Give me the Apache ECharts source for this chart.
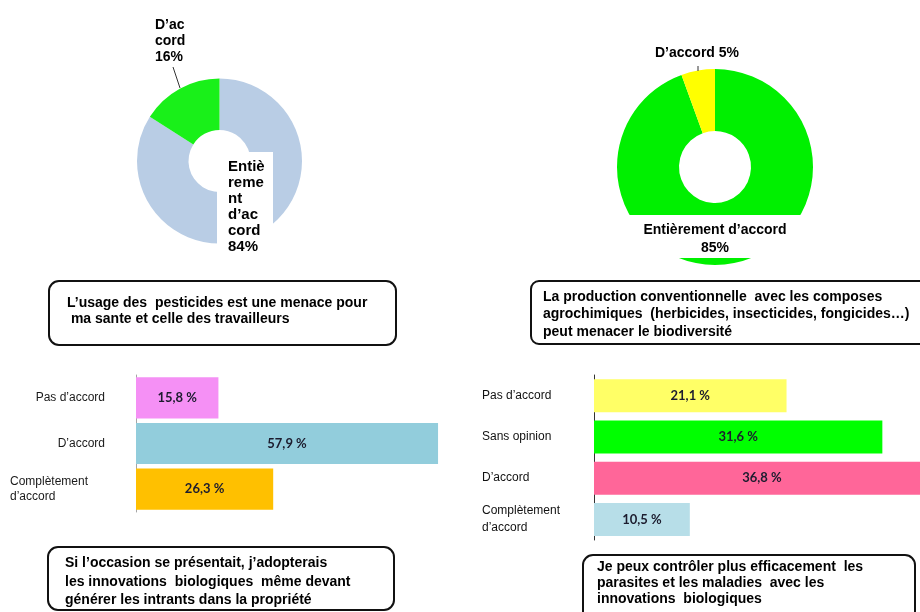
<!DOCTYPE html>
<html>
<head>
<meta charset="utf-8">
<script src="https://cdn.jsdelivr.net/npm/echarts@6/dist/echarts.min.js"></script>
<style>
  html, body { margin: 0; padding: 0; background: #ffffff; }
  #chart { width: 920px; height: 612px; }
</style>
</head>
<body>
<div id="chart"></div>
<script>
// Donut 1: pesticides as a threat to health
const donut1Names = ['Entièrement d’accord', 'D’accord'];
const donut1Wrapped = ['Entiè\nreme\nnt\nd’ac\ncord', 'D’ac\ncord'];
const donut1Values = [84, 16];
const donut1Colors = ['#B9CDE5', '#19F019'];

// Donut 2: conventional production and biodiversity
const donut2Names = ['Entièrement d’accord', 'D’accord'];
const donut2Values = [85, 5];
const donut2Colors = ['#00F000', '#FFFF00'];

// Bars 1: adoption of biological innovations
const bar1Categories = ['Pas d’accord', 'D’accord', 'Complètement\nd’accord'];
const bar1Values = [15.8, 57.9, 26.3];
const bar1Colors = ['#F590F5', '#92CDDC', '#FFC000'];

// Bars 2: pest and disease control
const bar2Categories = ['Pas d’accord', 'Sans opinion', 'D’accord', 'Complètement\nd’accord'];
const bar2Values = [21.1, 31.6, 36.8, 10.5];
const bar2Colors = ['#FFFF66', '#00FF00', '#FF6699', '#B7DEE8'];

// Statement captions
const statements = [
  'L’usage des  pesticides est une menace pour\n ma sante et celle des travailleurs',
  'La production conventionnelle  avec les composes\nagrochimiques  (herbicides, insecticides, fongicides…)\npeut menacer le biodiversité',
  'Si l’occasion se présentait, j’adopterais\nles innovations  biologiques  même devant\ngénérer les intrants dans la propriété',
  'Je peux contrôler plus efficacement  les\nparasites et les maladies  avec les\ninnovations  biologiques'
];

const SANS = '"Liberation Sans", Arial, sans-serif';
const LABEL_FONT = 'Lato, "Open Sans", sans-serif';
const pct = v => v.toFixed(1).replace('.', ',') + ' %';

const chart = echarts.init(document.getElementById('chart'), null, { renderer: 'canvas' });

function pieData(names, values, colors) {
  return names.map((n, i) => ({ name: n, value: values[i], itemStyle: { color: colors[i] } }));
}
function barData(values, colors) {
  return values.map((v, i) => ({ value: v, itemStyle: { color: colors[i] } }));
}

const barLabel = {
  show: true,
  position: 'inside',
  formatter: p => pct(p.value),
  fontFamily: LABEL_FONT,
  fontWeight: 'bold',
  fontSize: 13,
  color: '#1c1c2e'
};

const txt = (x, y, text, extra) => ({
  type: 'text', x, y, z: 110,
  style: Object.assign({
    text, fill: '#000', fontFamily: SANS, fontWeight: 'bold', fontSize: 14, lineHeight: 17
  }, extra || {})
});
const box = (x, y, w, h, r) => ({
  type: 'rect', z: 105,
  shape: { x, y, width: w, height: h, r },
  style: { fill: null, stroke: '#111', lineWidth: 2 }
});

chart.setOption({
  animation: false,
  backgroundColor: '#ffffff',
  grid: [
    { left: 136, top: 375, width: 313, height: 137, outerBoundsMode: 'none', containLabel: false },
    { left: 594, top: 375, width: 365, height: 165, outerBoundsMode: 'none', containLabel: false }
  ],
  xAxis: [
    { gridIndex: 0, type: 'value', min: 0, max: 60, show: false },
    { gridIndex: 1, type: 'value', min: 0, max: 40, show: false }
  ],
  yAxis: [
    {
      gridIndex: 0, type: 'category', inverse: true, data: bar1Categories,
      axisTick: { show: false },
      axisLine: { lineStyle: { color: '#a6a6a6', width: 1 } },
      axisLabel: {
        margin: 31, align: 'right', fontFamily: SANS, fontSize: 12, color: '#1a1a1a', lineHeight: 15,
        formatter: v => v.indexOf('\n') >= 0 ? v.split('\n').map(s => '{l|' + s + '}').join('\n') : v,
        rich: { l: { width: 95, align: 'left', fontFamily: SANS, fontSize: 12, color: '#1a1a1a', lineHeight: 15 } }
      }
    },
    {
      gridIndex: 1, type: 'category', inverse: true, data: bar2Categories,
      axisTick: { show: false },
      axisLine: { lineStyle: { color: '#333333', width: 1 } },
      axisLabel: { margin: 112, align: 'left', fontFamily: SANS, fontSize: 12, color: '#111', lineHeight: 17 }
    }
  ],
  series: [
    {
      type: 'pie', silent: true, center: [219.5, 161], radius: [31, 82.5],
      startAngle: 90, clockwise: true,
      label: { show: false }, labelLine: { show: false },
      data: pieData(donut1Names, donut1Values, donut1Colors)
    },
    {
      type: 'pie', silent: true, center: [715, 167], radius: [36, 98],
      startAngle: 90, clockwise: true,
      label: { show: false }, labelLine: { show: false },
      data: pieData(donut2Names, donut2Values, donut2Colors)
    },
    {
      type: 'bar', xAxisIndex: 0, yAxisIndex: 0, silent: true,
      barCategoryGap: '10%', label: barLabel,
      data: barData(bar1Values, bar1Colors)
    },
    {
      type: 'bar', xAxisIndex: 1, yAxisIndex: 1, silent: true,
      barCategoryGap: '20%', label: barLabel,
      data: barData(bar2Values, bar2Colors)
    }
  ],
  graphic: [
    // label panels laid over the donut rings
    { type: 'rect', z: 100, shape: { x: 217, y: 152, width: 56, height: 110 }, style: { fill: '#ffffff' } },
    { type: 'rect', z: 100, shape: { x: 615, y: 215, width: 200, height: 43 }, style: { fill: '#ffffff' } },

    txt(228, 159, donut1Wrapped[0] + '\n' + donut1Values[0] + '%', { fontSize: 15, lineHeight: 16 }),
    txt(155, 17, donut1Wrapped[1] + '\n' + donut1Values[1] + '%', { fontSize: 14, lineHeight: 16 }),
    { type: 'line', z: 110, shape: { x1: 180, y1: 88, x2: 173, y2: 67 }, style: { stroke: '#333', lineWidth: 1 } },

    txt(715, 221, donut2Names[0] + '\n' + donut2Values[0] + '%', { fontSize: 14, lineHeight: 18, align: 'center' }),
    txt(697, 45, donut2Names[1] + ' ' + donut2Values[1] + '%', { fontSize: 14, align: 'center' }),
    { type: 'line', z: 110, shape: { x1: 698, y1: 66, x2: 698, y2: 71 }, style: { stroke: '#333', lineWidth: 1 } },

    // statement captions
    box(49, 281, 347, 64, 10),
    txt(67, 295, statements[0], { lineHeight: 16 }),
    box(531, 281, 400, 63, 8),
    txt(543, 288, statements[1], { lineHeight: 17.5 }),
    box(48, 547, 346, 63, 10),
    txt(65, 554, statements[2], { lineHeight: 18.5 }),
    box(583, 555, 332, 70, 10),
    txt(597, 559, statements[3], { lineHeight: 16 })
  ]
});
</script>
</body>
</html>
